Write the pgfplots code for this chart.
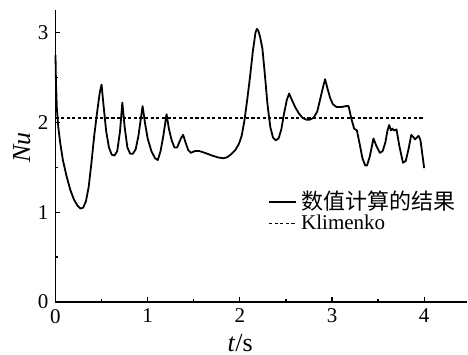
\documentclass[border=0pt]{standalone}
\usepackage{pgfplots}
\pgfplotsset{compat=1.18}
\usepackage{fontspec}
\setmainfont{Liberation Serif}
\newfontfamily\cjk{Noto Sans CJK SC}
\begin{document}
\begin{tikzpicture}
\useasboundingbox (-27.75pt,-26.5pt) rectangle (206.25pt,151pt);
\begin{axis}[
  at={(0,0)}, anchor=origin,
  scale only axis, width=206pt, height=146pt,
  xmin=0, xmax=4.47, ymin=0, ymax=3.25,
  axis x line=bottom, axis y line=left,
  axis line style={line width=0.75pt, -},
  xtick={0,1,2,3,4}, ytick={0,1,2,3},
  minor xtick={0.5,1.5,2.5,3.5}, minor ytick={0.5,1.5,2.5},
  tick align=inside, major tick length=2.5pt, minor tick length=1.5pt,
  tick style={line width=0.6pt, black},
  every tick label/.style={font=\fontsize{10.5}{12}\selectfont},
  /pgf/number format/assume math mode=true,
  xlabel={\textit{t}/s}, ylabel={\textit{Nu}},
  label style={font=\fontsize{13}{14}\selectfont},
  xlabel style={at={(axis description cs:0.448,0)}, anchor=north, yshift=-12.5pt},
  ylabel style={at={(axis description cs:0,0.53)}, anchor=south, yshift=9pt},
  legend style={at={(rel axis cs:0.515,0.395)}, anchor=north west, draw=none, fill=none,
    font=\fontsize{10.5}{11}\selectfont, row sep=-3pt, inner sep=0pt},
  legend cell align=left,
  legend image code/.code={\draw[#1] (0cm,0cm) -- (0.48cm,0cm);},
  clip=false,
]
\addplot[black, line width=0.9pt, line join=round] coordinates {
(0.000,2.75) (0.005,2.45) (0.015,2.15) (0.03,1.95) (0.05,1.78) (0.08,1.58)
(0.12,1.40) (0.16,1.25) (0.20,1.14) (0.24,1.07) (0.27,1.04) (0.30,1.05)
(0.33,1.12) (0.36,1.28) (0.39,1.55) (0.42,1.85) (0.45,2.10) (0.48,2.33)
(0.50,2.42) (0.52,2.20) (0.55,1.90) (0.58,1.72) (0.61,1.64) (0.64,1.63)
(0.67,1.68) (0.70,1.90) (0.725,2.22) (0.75,1.95) (0.78,1.72) (0.81,1.65)
(0.84,1.65) (0.87,1.70) (0.90,1.85) (0.945,2.18) (0.97,2.00) (1.00,1.82)
(1.04,1.68) (1.08,1.60) (1.11,1.58) (1.14,1.68) (1.17,1.85) (1.205,2.09)
(1.23,1.93) (1.26,1.80) (1.29,1.72) (1.32,1.72) (1.36,1.82) (1.385,1.86)
(1.41,1.78) (1.44,1.69) (1.47,1.66) (1.51,1.68) (1.56,1.68) (1.62,1.66)
(1.70,1.63) (1.76,1.61) (1.82,1.60) (1.86,1.61) (1.90,1.64) (1.95,1.69)
(1.99,1.76) (2.02,1.85) (2.05,2.02) (2.08,2.25) (2.11,2.50) (2.14,2.78)
(2.17,3.00) (2.185,3.04) (2.20,3.02) (2.22,2.95) (2.245,2.82) (2.27,2.55)
(2.30,2.20) (2.33,1.95) (2.36,1.83) (2.39,1.80) (2.42,1.82) (2.45,1.92)
(2.48,2.10) (2.51,2.25) (2.535,2.32) (2.56,2.26) (2.60,2.17) (2.64,2.10)
(2.68,2.05) (2.72,2.03) (2.76,2.03) (2.80,2.05) (2.84,2.12) (2.87,2.25)
(2.90,2.38) (2.925,2.48) (2.95,2.38) (2.98,2.27) (3.01,2.20) (3.05,2.17)
(3.10,2.17) (3.15,2.18) (3.18,2.18) (3.21,2.04) (3.24,1.93) (3.27,1.91)
(3.30,1.76) (3.33,1.60) (3.36,1.52) (3.38,1.52) (3.41,1.62) (3.45,1.82)
(3.48,1.74) (3.52,1.66) (3.55,1.68) (3.58,1.78) (3.60,1.90) (3.62,1.97)
(3.64,1.91) (3.655,1.93) (3.67,1.91) (3.70,1.92) (3.73,1.74) (3.77,1.55)
(3.80,1.57) (3.83,1.70) (3.86,1.86) (3.88,1.84) (3.90,1.81) (3.94,1.85)
(3.96,1.80) (4.00,1.49)
};
\addlegendentry{{\cjk\fontsize{11}{11}\selectfont 数值计算的结果}}
\addplot[black, line width=0.7pt, dash pattern=on 1.6pt off 1.2pt] coordinates {(0,2.05) (4,2.05)};
\addlegendentry{Klimenko}
\end{axis}
\end{tikzpicture}
\end{document}
